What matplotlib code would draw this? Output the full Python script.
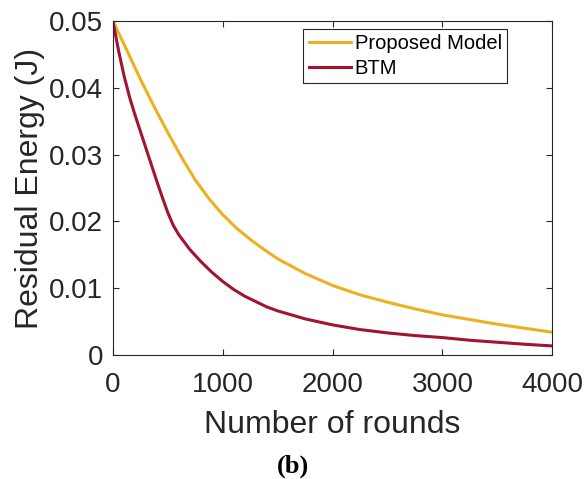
import matplotlib
matplotlib.use("Agg")
import matplotlib.pyplot as plt

plt.rcParams['font.family'] = ['Liberation Sans', 'DejaVu Sans']

# curves
rounds_prop = [0, 125, 250, 375, 500, 625, 750, 875, 1000, 1125, 1250, 1375, 1500,
               1750, 2000, 2250, 2500, 2750, 3000, 3250, 3500, 3750, 4000]
energy_prop = [0.0500, 0.0457, 0.0413, 0.0372, 0.0333, 0.0296, 0.0262, 0.0234, 0.0210,
               0.0190, 0.0173, 0.0158, 0.0144, 0.0122, 0.0104, 0.0090, 0.0079, 0.0069,
               0.0060, 0.0053, 0.0046, 0.0040, 0.0034]

rounds_btm = [0, 50, 100, 150, 200, 250, 300, 350, 400, 450, 500, 550, 600, 650, 700,
              800, 900, 1000, 1100, 1200, 1300, 1400, 1500, 1750, 2000, 2250, 2500,
              2750, 3000, 3250, 3500, 3750, 4000]
energy_btm = [0.0500, 0.0457, 0.0419, 0.0387, 0.0360, 0.0335, 0.0310, 0.0285, 0.0260,
              0.0236, 0.0213, 0.0194, 0.0180, 0.0169, 0.0158, 0.0140, 0.0124, 0.0110,
              0.0098, 0.0088, 0.0080, 0.0072, 0.0066, 0.0054, 0.0045, 0.0038, 0.0033,
              0.0029, 0.0026, 0.0022, 0.0019, 0.0016, 0.00135]

xticks = [0, 1000, 2000, 3000, 4000]
yticks = [0, 0.01, 0.02, 0.03, 0.04, 0.05]
ytick_labels = ['0', '0.01', '0.02', '0.03', '0.04', '0.05']

fig = plt.figure(figsize=(5.85, 4.79), dpi=100)
ax = fig.add_axes([0.193, 0.259, 0.751, 0.697])

ax.plot(rounds_prop, energy_prop, color='#EDB120', lw=2.2, label='Proposed Model')
ax.plot(rounds_btm, energy_btm, color='#A2142F', lw=2.2, label='BTM')

ax.set_xlim(0, 4000)
ax.set_ylim(0, 0.05)
ax.set_xticks(xticks)
ax.set_xticklabels([str(t) for t in xticks])
ax.set_yticks(yticks)
ax.set_yticklabels(ytick_labels)
ax.tick_params(direction='in', length=4, width=0.8, top=True, right=True,
               labelsize=20, colors='#262626')
ax.tick_params(axis='x', pad=12)
ax.tick_params(axis='y', pad=7)
for s in ax.spines.values():
    s.set_color('#262626')
    s.set_linewidth(0.8)

ax.set_xlabel('Number of rounds', fontsize=23, color='#262626', labelpad=9)
ax.set_ylabel('Residual Energy (J)', fontsize=23, color='#262626', labelpad=3)

leg = ax.legend(loc='upper right', bbox_to_anchor=(0.897, 0.976), borderaxespad=0,
                fontsize=14.5, fancybox=False, framealpha=1, edgecolor='#262626',
                handlelength=2.1, handletextpad=0.2, borderpad=0.25, labelspacing=0.3)
leg.get_frame().set_linewidth(0.8)

fig.text(0.5, 0.027, '(b)', ha='center', va='center', fontsize=19, fontweight='bold',
         family=['Liberation Serif', 'DejaVu Serif'])

fig.savefig('out.png', dpi=100)
